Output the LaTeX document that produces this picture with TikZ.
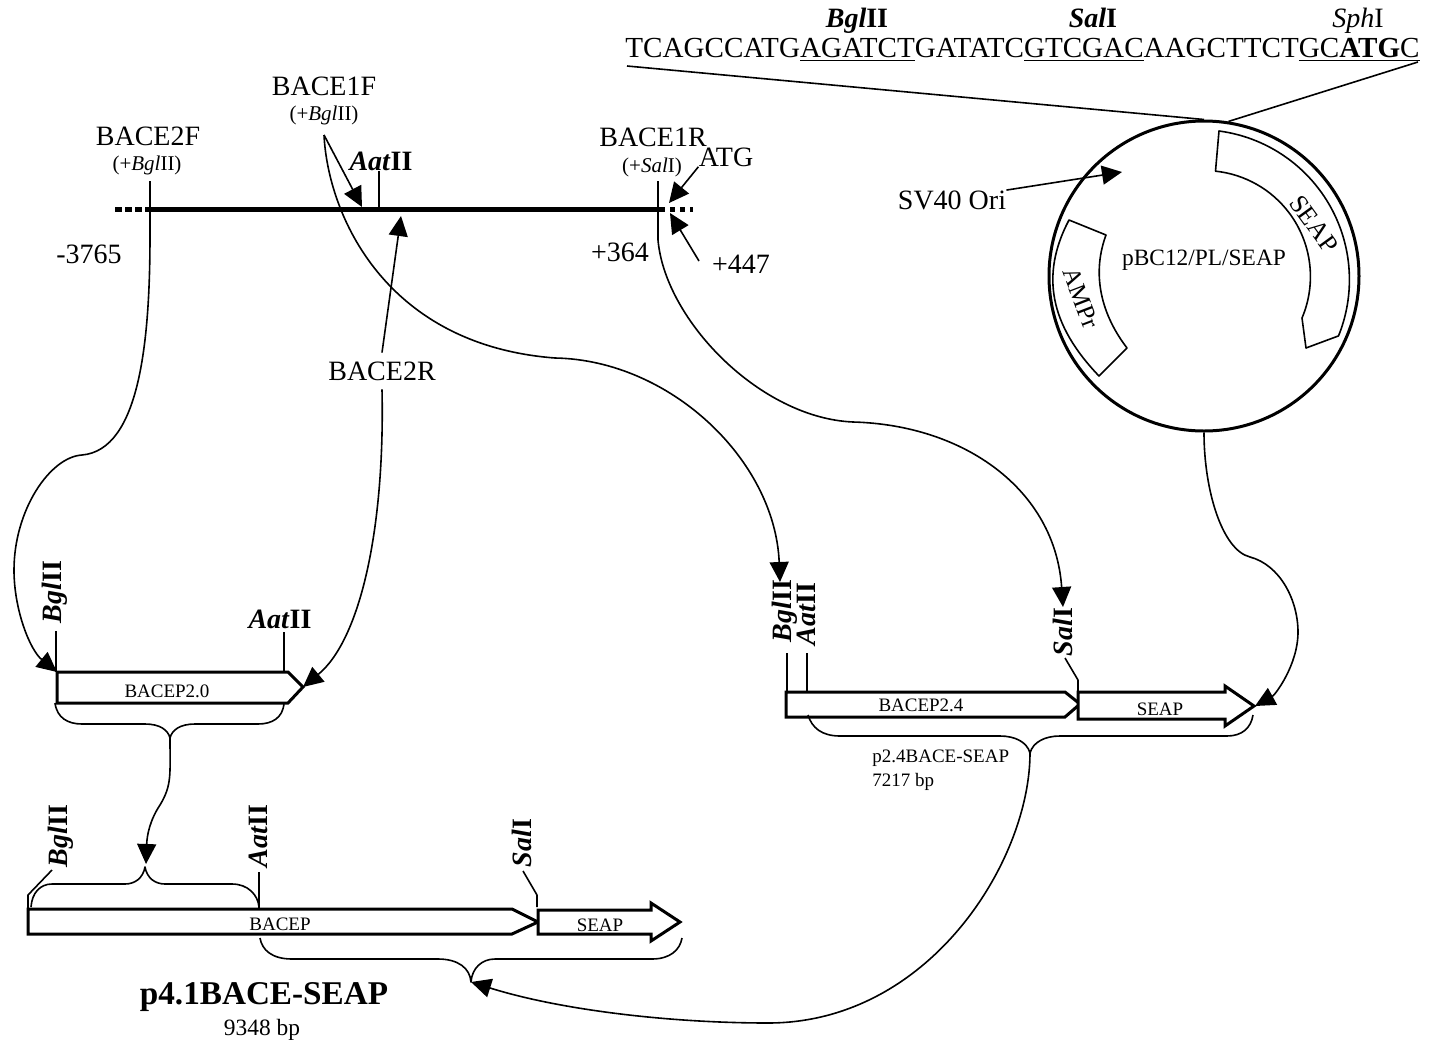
\documentclass[tikz,border=0pt]{standalone}
\usepackage{fontspec}
\setmainfont{Liberation Serif}
\usepackage{tikz}
\usetikzlibrary{arrows.meta}
\newcommand{\bgl}{\textbf{\textit{Bgl}II}}
\newcommand{\aat}{\textbf{\textit{Aat}II}}
\newcommand{\sal}{\textbf{\textit{Sal}I}}
\tikzset{
	biglab/.style={inner sep=0pt, font=\fontsize{14}{16}\selectfont},
	midlab/.style={inner sep=0pt, font=\fontsize{11.7}{14}\selectfont},
	smalllab/.style={inner sep=0pt, font=\fontsize{10.5}{12}\selectfont},
	boxlab/.style={inner sep=0pt, font=\fontsize{9.5}{12}\selectfont},
	wire/.style={line width=0.8pt},
	tiparrow/.style={line width=0.8pt, -{Triangle[length=10pt,width=9.5pt]}},
	gene/.style={draw, fill=white, line width=1.5pt, line join=miter}
}
\begin{document}
\begin{tikzpicture}[x=0.5pt, y=-0.5pt, line join=round]
	\useasboundingbox (0,0) rectangle (1437,1045);

	% SEQUENCE ABOVE THE PLASMID
	\node[biglab, anchor=base] (bglseq) at (857,27) {\bgl};
	\node[biglab, anchor=base] (salseq) at (1093,27) {\sal};
	\node[biglab, anchor=base] (sphseq) at (1358,27) {\textit{Sph}I};
	\node[biglab, anchor=base west, font=\fontsize{14.55}{16}\selectfont] (seq) at (625,57) {TCAGCCATG\underline{AGATCT}GATATC\underline{GTCGAC}AAGCTTCT\underline{GC\textbf{ATG}C}};
	\coordinate (seqleft) at (627,66);
	\coordinate (seqright) at (1418,62);

	% PLASMID
	\node[circle, draw, line width=1.5pt, minimum size=155pt, inner sep=0pt] (plasmid) at (1204,276) {};
	\draw[wire] (seqleft) -- (plasmid.north);
	\draw[wire] (seqright) -- (plasmid.81);
	\draw[wire, fill=white] (1219,131) arc[start angle=-82.5, end angle=22, radius=150] -- (1306,348) -- (1302,318) arc[start angle=23, end angle=-84, radius=106] -- cycle;
	\draw[wire, fill=white] (1069,220) -- (1106,235) .. controls (1093,270) and (1098,310) .. (1127,348) -- (1099,376) .. controls (1050,325) and (1040,275) .. cycle;
	\node[midlab] (plname) at (1204,260) {pBC12/PL/SEAP};
	\node[biglab, font=\fontsize{13}{16}\selectfont, rotate=-54] (plseap) at (1314,224) {SEAP};
	\node[biglab, font=\fontsize{12.5}{16}\selectfont, rotate=-69] (plamp) at (1081,298) {AMPr};
	\node[biglab] (svori) at (952,200) {SV40 Ori};
	\coordinate (svtip) at (1122,172);
	\draw[tiparrow] (svori.north east) -- (svtip);

	% GENOMIC LINE
	\coordinate (linestart) at (147,209);
	\coordinate (lineend) at (660,209);
	\draw[line width=2.5pt] (linestart) -- (lineend);
	\draw[line width=2.5pt, dash pattern=on 3.3pt off 1.7pt] (115,209) -- (linestart);
	\draw[line width=2.5pt, dash pattern=on 2.5pt off 2.5pt] (lineend) -- (693,209);
	\node[biglab] (f2) at (148,136) {BACE2F};
	\node[smalllab] (f2site) at (147,165) {(+\textit{Bgl}II)};
	\node[biglab] (f1) at (324,86) {BACE1F};
	\node[smalllab] (f1site) at (324,115) {(+\textit{Bgl}II)};
	\node[biglab] (r1) at (653,137) {BACE1R};
	\node[smalllab] (r1site) at (652,167) {(+\textit{Sal}I)};
	\node[biglab] (atg) at (726,157) {ATG};
	\node[biglab] (aatline) at (381,161) {\aat};
	\node[biglab, outer ysep=4.5pt] (r2) at (382,371) {BACE2R};
	\node[biglab] (m3765) at (89,254) {-3765};
	\node[biglab] (p364) at (620,252) {+364};
	\node[biglab] (p447) at (741,264) {+447};
	\coordinate (aatcut) at (379,209);
	\coordinate (f2top) at (150,181);
	\coordinate (f1top) at (324,135);
	\coordinate (r1top) at (658,181);
	\coordinate (f1tip) at (362,207);
	\coordinate (r2tip) at (401,216);
	\coordinate (atgtip) at (669,203);
	\coordinate (p447tip) at (670,213);
	\draw[wire] (aatline.south -| aatcut) -- (aatcut);
	\draw[tiparrow] (f1top) -- (f1tip);
	\draw[tiparrow] (r2.north) -- (r2tip);
	\draw[tiparrow] (atg.south west) -- (atgtip);
	\draw[tiparrow] (699,261) -- (p447tip);

	% BACEP2.0 FRAGMENT
	\coordinate (a1) at (57,672);
	\coordinate (a2) at (303,687);
	\draw[gene] (a1) -- (288,672) -- (a2) -- (288,703) -- (57,703) -- cycle;
	\node[boxlab] (bacep20) at (167,691) {BACEP2.0};
	\node[biglab, rotate=90] (abgl) at (55,592) {\bgl};
	\node[biglab] (aaat) at (280,619) {\aat};
	\draw[wire] (56,631) -- (56,672);
	\draw[wire] (284,632) -- (284,672);
	\draw[tiparrow] (f2top) -- (150,235) .. controls (150,340) and (140,450) .. (82,455) .. controls (50,457) and (14,510) .. (14,570) .. controls (14,610) and (30,650) .. (a1);
	\draw[tiparrow] (r2.south) .. controls (385,530) and (360,640) .. (a2);
	\coordinate (abrace) at (170,738);
	\draw[wire] (55,703) .. controls (57,718) and (68,724) .. (82,724) -- (145,724) .. controls (160,724) and (168,730) .. (abrace) .. controls (172,730) and (180,724) .. (195,724) -- (258,724) .. controls (272,724) and (283,718) .. (284,703);

	% p2.4BACE-SEAP
	\coordinate (b1) at (786,692);
	\coordinate (b2) at (1080,704);
	\coordinate (c1) at (1078,692);
	\coordinate (c2) at (1255,706);
	\draw[gene] (b1) -- (1065,692) -- (b2) -- (1065,717) -- (786,717) -- cycle;
	\draw[gene] (c1) -- (1225,692) -- (1225,686) -- (1254,706) -- (1225,726) -- (1225,719) -- (1078,719) -- cycle;
	\node[boxlab] (bacep24) at (921,705) {BACEP2.4};
	\node[boxlab] (seap24) at (1160,709) {SEAP};
	\node[biglab, rotate=90] (bbgl) at (785,611) {\bgl};
	\node[biglab, rotate=90] (baat) at (806,614) {\aat};
	\node[biglab, rotate=90] (bsal) at (1063,632) {\sal};
	\draw[wire] (787,653) -- (787,692);
	\draw[wire] (807,653) -- (807,692);
	\draw[wire] (1065,658) -- (1078,680) -- (c1);
	\coordinate (bbrace) at (1030,753);
	\draw[wire] (808,715) .. controls (812,728) and (822,736) .. (840,736) -- (1000,736) .. controls (1015,736) and (1027,742) .. (bbrace) .. controls (1033,742) and (1045,736) .. (1060,736) -- (1227,736) .. controls (1242,736) and (1251,728) .. (1253,715);
	\node[boxlab, align=left, anchor=north west] (b24name) at (872,750) {p2.4BACE-SEAP\\7217 bp};
	\draw[tiparrow] (plasmid.south) .. controls (1204,490) and (1222,550) .. (1250,557) .. controls (1280,565) and (1298,600) .. (1298,632) .. controls (1298,665) and (1275,695) .. (c2);
	\coordinate (b1tip) at (780,582);
	\coordinate (c1tip) at (1063,607);
	\draw[tiparrow] (f1top) .. controls (328,215) and (385,345) .. (555,358) .. controls (670,360) and (775,460) .. (b1tip);
	\draw[tiparrow] (r1top) -- (658,240) .. controls (665,320) and (760,418) .. (853,422) .. controls (965,425) and (1055,490) .. (c1tip);

	% p4.1BACE-SEAP
	\coordinate (d1) at (28,909);
	\coordinate (d2) at (538,922);
	\coordinate (e1) at (538,910);
	\coordinate (e2) at (680,922);
	\draw[gene] (d1) -- (512,909) -- (d2) -- (512,934) -- (28,934) -- cycle;
	\draw[gene] (e1) -- (651,910) -- (651,903) -- (e2) -- (651,941) -- (651,934) -- (538,934) -- cycle;
	\node[boxlab] (bacep) at (280,924) {BACEP};
	\node[boxlab] (seapb) at (600,925) {SEAP};
	\node[biglab, rotate=90] (dbgl) at (61,836) {\bgl};
	\node[biglab, rotate=90] (daat) at (258,836) {\aat};
	\node[biglab, rotate=90] (dsal) at (522,843) {\sal};
	\draw[wire] (28,908) -- (28,895) -- (52,870);
	\draw[wire] (259,872) -- (259,909);
	\draw[wire] (523,871) -- (537,895) -- (537,907);
	\coordinate (dbrace) at (145,867);
	\draw[wire] (31,907) .. controls (32,893) and (40,884) .. (52,884) -- (125,884) .. controls (135,884) and (143,878) .. (dbrace) .. controls (147,878) and (155,884) .. (165,884) -- (232,884) .. controls (248,884) and (258,895) .. (259,907);
	\coordinate (ebrace) at (471,982);
	\draw[wire] (260,938) .. controls (262,950) and (272,959) .. (292,959) -- (438,959) .. controls (458,959) and (470,968) .. (ebrace) .. controls (472,968) and (482,959) .. (495,959) -- (652,959) .. controls (670,959) and (680,950) .. (682,938);
	\draw[tiparrow] (abrace) .. controls (170,775) and (172,785) .. (160,805) .. controls (150,820) and (147,835) .. (146,864);
	\draw[tiparrow] (bbrace) .. controls (1030,860) and (930,1023) .. (768,1023) .. controls (670,1023) and (560,1010) .. (ebrace);
	\node[font=\fontsize{16.6}{20}\selectfont\bfseries, inner sep=0pt] (d41name) at (264,997) {p4.1BACE-SEAP};
	\node[midlab] (d41size) at (262,1030) {9348 bp};
\end{tikzpicture}
\end{document}
